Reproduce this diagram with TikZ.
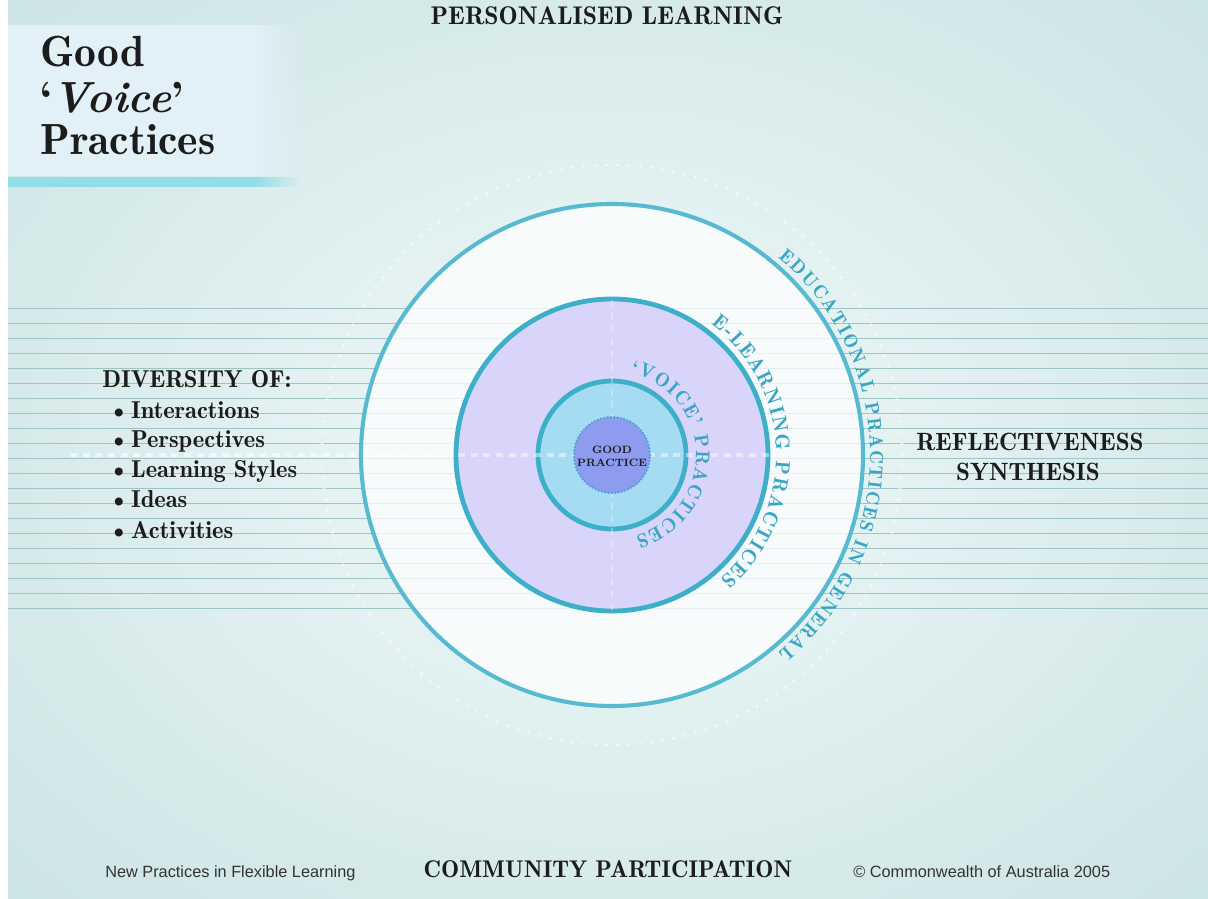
\documentclass[tikz,border=0pt]{standalone}
\usepackage{fontspec}
\usetikzlibrary{calc,decorations.text,fadings}
\newfontfamily\footfont{Liberation Sans}
\newfontfamily\demifont{lmromandemi10-regular.otf}[Ligatures=TeX, ItalicFont=lmroman10-bolditalic.otf]

\definecolor{bgout}{HTML}{B0D4D4}
\definecolor{bgmid}{HTML}{C4DFDF}
\definecolor{bgin}{HTML}{E6F3F3}
\definecolor{ruleline}{HTML}{A0C4C5}
\definecolor{titlebox}{HTML}{E2F0F7}
\definecolor{titlestripe}{HTML}{92DEE6}
\definecolor{ringline}{HTML}{3DAFC8}
\definecolor{outerline}{HTML}{58BAD0}
\definecolor{purplefill}{HTML}{D9D5FA}
\definecolor{innerfill}{HTML}{A5DCF4}
\definecolor{goodfill}{HTML}{8E9CF0}
\definecolor{gooddot}{HTML}{4FA2D6}
\definecolor{ringtext}{HTML}{3AA6C4}
\definecolor{ink}{HTML}{1C1C1C}
\definecolor{footink}{HTML}{333333}

\pgfdeclareradialshading{bgglow}{\pgfpoint{0bp}{0bp}}{color(0bp)=(bgin); color(10bp)=(bgin); color(30bp)=(bgmid!60!bgin); color(48bp)=(bgmid); color(62bp)=(bgout); color(75bp)=(bgout)}
\tikzfading[name=fadeeast, left color=transparent!0, right color=transparent!100]

\newcommand\titlefont{\demifont\fontsize{31}{31}\selectfont\color{ink}}
\newcommand\headfont{\demifont\fontsize{18.2}{18.2}\selectfont\color{ink}}
\newcommand\bottomfont{\demifont\fontsize{17.2}{17.2}\selectfont\color{ink}}
\newcommand\listfont{\demifont\fontsize{17.4}{17.4}\selectfont\color{ink}}
\newcommand\sidefont{\demifont\fontsize{17.8}{17.8}\selectfont\color{ink}}
\newcommand\smallfoot{\footfont\fontsize{11.6}{11.6}\selectfont\color{footink}}
\newcommand\voicefont{\demifont\fontsize{14}{14}\selectfont\color{ringtext}}
\newcommand\elearnfont{\demifont\fontsize{14.6}{14.6}\selectfont\color{ringtext}}
\newcommand\edufont{\demifont\fontsize{13.6}{13.6}\selectfont\color{ringtext}}

\begin{document}
\begin{tikzpicture}[x=0.025cm, y=0.025cm]
        \tikzstyle{every node}+=[inner sep=0pt]
        \tikzstyle{rule}=[draw=ruleline, line width=0.6pt]
        \tikzstyle{ringtxt}=[decorate, decoration={text along path, text align={fit to path}}]
        \useasboundingbox (0,0) rectangle (1208,-899);
        % page and glow
        \fill [white] (0,0) rectangle (1208,-899);
        \shade [shading=bgglow] (8,0) rectangle (1208,-899);
        % ruled band behind the rings
        \draw [rule] (8,-308) -- (1208,-308);
        \draw [rule] (8,-323) -- (1208,-323);
        \draw [rule] (8,-338) -- (1208,-338);
        \draw [rule] (8,-353) -- (1208,-353);
        \draw [rule] (8,-368) -- (1208,-368);
        \draw [rule] (8,-383) -- (1208,-383);
        \draw [rule] (8,-398) -- (1208,-398);
        \draw [rule] (8,-413) -- (1208,-413);
        \draw [rule] (8,-428) -- (1208,-428);
        \draw [rule] (8,-443) -- (1208,-443);
        \draw [rule] (8,-458) -- (1208,-458);
        \draw [rule] (8,-473) -- (1208,-473);
        \draw [rule] (8,-488) -- (1208,-488);
        \draw [rule] (8,-503) -- (1208,-503);
        \draw [rule] (8,-518) -- (1208,-518);
        \draw [rule] (8,-533) -- (1208,-533);
        \draw [rule] (8,-548) -- (1208,-548);
        \draw [rule] (8,-563) -- (1208,-563);
        \draw [rule] (8,-578) -- (1208,-578);
        \draw [rule] (8,-593) -- (1208,-593);
        \draw [rule] (8,-608) -- (1208,-608);
        % rings
        \coordinate (c) at (612,-455);
        \draw [white, opacity=0.6, line width=2.4pt, line cap=round, dash pattern=on 0pt off 8pt] (c) circle[radius=290];
        \draw [white, opacity=0.6, line width=2.2pt, dash pattern=on 5pt off 4pt] (70,-455) -- (c);
        \draw [outerline, line width=2.9pt, fill=white, fill opacity=0.72] (c) circle[radius=251];
        \draw [ringline, line width=3.4pt, fill=purplefill] (c) circle[radius=156];
        \draw [ringline, line width=3.4pt, fill=innerfill] (c) circle[radius=74];
        \draw [white, opacity=0.45, line width=2.2pt, dash pattern=on 5pt off 4pt] (458,-455) -- (770,-455);
        \draw [white, opacity=0.3, line width=2pt, dash pattern=on 5pt off 4pt] (612,-300) -- (612,-610);
        \fill [goodfill] (c) circle[radius=38];
        \draw [gooddot, line width=1.8pt, line cap=round, dash pattern=on 0pt off 2.4pt] (c) circle[radius=38];
        \node [align=center, font=\bfseries\fontsize{7.6}{9.2}\selectfont\color{ink}] (goodpractice) at (612,-456) {GOOD\\PRACTICE};
        % ring captions
        \path [ringtxt, decoration={text={|\voicefont|`VOICE' PRACTICES}}] ($(c)+(77:84)$) arc[start angle=77, end angle=-74, radius=84];
        \path [ringtxt, decoration={text={|\elearnfont|E-LEARNING PRACTICES}}] ($(c)+(53:164)$) arc[start angle=53, end angle=-49, radius=164];
        \path [ringtxt, decoration={text={|\edufont|EDUCATIONAL PRACTICES IN GENERAL}}] ($(c)+(50:258)$) arc[start angle=50, end angle=-50, radius=258];
        % title card
        \fill [titlebox] (8,-25) rectangle (255,-176);
        \fill [titlebox, path fading=fadeeast] (255,-25) rectangle (305,-176);
        \fill [titlestripe] (8,-177) rectangle (255,-187);
        \fill [titlestripe, path fading=fadeeast] (255,-177) rectangle (300,-187);
        \node [anchor=base west, font=\titlefont] (good) at (40,-67) {Good};
        \node [anchor=base west, font=\titlefont] (voice) at (40,-113) {`\textit{Voice}'};
        \node [anchor=base west, font=\titlefont] (practices) at (40,-155) {Practices};
        % headings round the rings
        \node [anchor=base, font=\headfont] (personal) at (607,-25) {PERSONALISED LEARNING};
        \node [anchor=base, font=\bottomfont] (community) at (608,-877) {COMMUNITY PARTICIPATION};
        \node [anchor=base, font=\sidefont] (reflect) at (1030,-450) {REFLECTIVENESS};
        \node [anchor=base, font=\sidefont] (synth) at (1028,-480) {SYNTHESIS};
        \node [anchor=base west, font=\listfont] (diversity) at (102,-387) {DIVERSITY OF:};
        \node [anchor=base west, font=\listfont] (inter) at (109,-418) {\textbullet\kern2pt Interactions};
        \node [anchor=base west, font=\listfont] (persp) at (109,-447) {\textbullet\kern2pt Perspectives};
        \node [anchor=base west, font=\listfont] (styles) at (109,-477) {\textbullet\kern2pt Learning Styles};
        \node [anchor=base west, font=\listfont] (ideas) at (109,-507) {\textbullet\kern2pt Ideas};
        \node [anchor=base west, font=\listfont] (activ) at (109,-538) {\textbullet\kern2pt Activities};
        % footer
        \node [anchor=base west, font=\smallfoot] (npfl) at (105,-877) {New Practices in Flexible Learning};
        \node [anchor=base west, font=\smallfoot] (copy) at (853,-877) {\textcopyright{} Commonwealth of Australia 2005};
    \end{tikzpicture}
\end{document}
